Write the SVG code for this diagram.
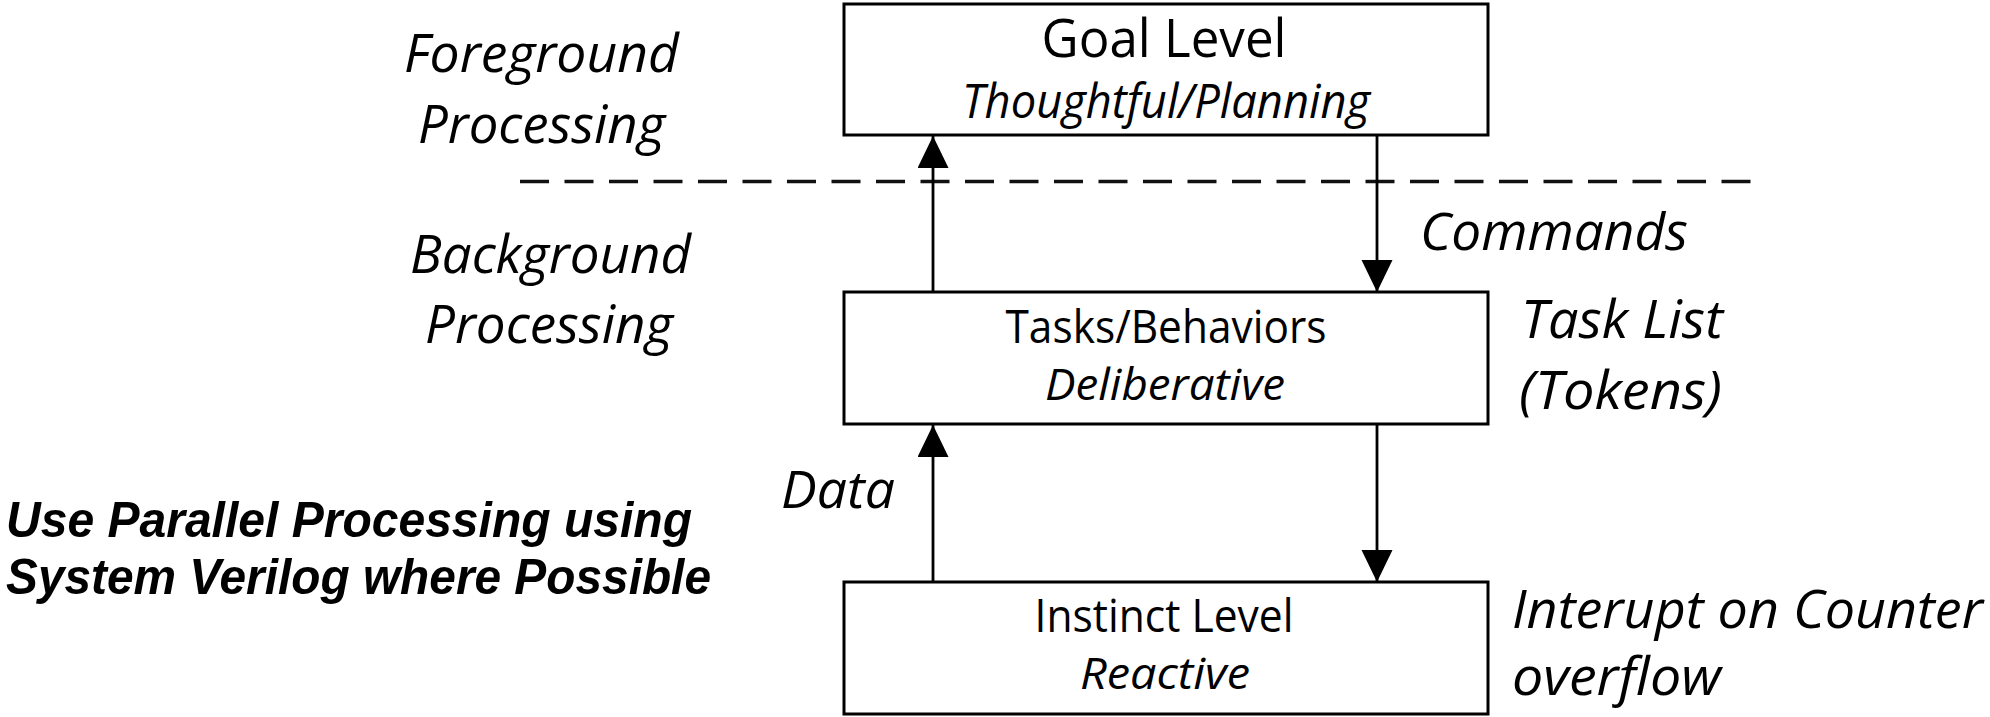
<svg xmlns="http://www.w3.org/2000/svg" width="1990" height="717" viewBox="0 0 1990 717">
  <style>
    .box { fill: #ffffff; stroke: #000000; stroke-width: 3; }
    .wire { stroke: #000000; stroke-width: 2.8; fill: none; }
    .divider { stroke: #111111; stroke-width: 3.4; stroke-dasharray: 29 15.5; fill: none; }
    .t { font-family: "Open Sans", "Noto Sans", "DejaVu Sans", sans-serif; fill: #000000; }
    .it { font-style: italic; }
    .note { font-family: "Liberation Sans", Arial, sans-serif; font-weight: bold; font-style: italic; fill: #000000; }
  </style>
  <defs>
    <marker id="head" markerUnits="userSpaceOnUse" markerWidth="30" markerHeight="32" refX="32" refY="15.5" orient="auto">
      <path d="M0,0 L32,15.5 L0,31 Z" fill="#000000"/>
    </marker>
  </defs>

  <rect width="1990" height="717" fill="#ffffff"/>

  <!-- side labels -->
  <g id="label-foreground">
    <text class="t it" x="404" y="72" font-size="53" textLength="275" lengthAdjust="spacingAndGlyphs">Foreground</text>
    <text class="t it" x="418" y="143" font-size="53" textLength="247" lengthAdjust="spacingAndGlyphs">Processing</text>
  </g>
  <g id="label-background">
    <text class="t it" x="410" y="273" font-size="53" textLength="281" lengthAdjust="spacingAndGlyphs">Background</text>
    <text class="t it" x="425" y="343" font-size="53" textLength="248" lengthAdjust="spacingAndGlyphs">Processing</text>
  </g>

  <!-- foreground / background boundary -->
  <line class="divider" x1="520" y1="181.5" x2="1751" y2="181.5"/>

  <!-- connectors -->
  <g id="connectors">
    <line class="wire" x1="933" y1="292" x2="933" y2="136" marker-end="url(#head)"/>
    <line class="wire" x1="1377" y1="136" x2="1377" y2="292" marker-end="url(#head)"/>
    <line class="wire" x1="933" y1="582" x2="933" y2="425" marker-end="url(#head)"/>
    <line class="wire" x1="1377" y1="425" x2="1377" y2="582" marker-end="url(#head)"/>
    <text class="t it" x="1420" y="250" font-size="51" textLength="268" lengthAdjust="spacingAndGlyphs">Commands</text>
    <text class="t it" x="781" y="508" font-size="51" textLength="114" lengthAdjust="spacingAndGlyphs">Data</text>
  </g>

  <!-- levels -->
  <g id="goal-level">
    <rect class="box" x="844" y="4" width="644" height="131"/>
    <text class="t" x="1164" y="57" font-size="53" text-anchor="middle" textLength="245" lengthAdjust="spacingAndGlyphs">Goal Level</text>
    <text class="t it" x="1166" y="118" font-size="47" text-anchor="middle" textLength="408" lengthAdjust="spacingAndGlyphs">Thoughtful/Planning</text>
  </g>

  <g id="tasks-behaviors">
    <rect class="box" x="844" y="292" width="644" height="132"/>
    <text class="t" x="1166" y="343" font-size="45" text-anchor="middle" textLength="321" lengthAdjust="spacingAndGlyphs">Tasks/Behaviors</text>
    <text class="t it" x="1165" y="400" font-size="44" text-anchor="middle" textLength="240" lengthAdjust="spacingAndGlyphs">Deliberative</text>
  </g>
  <g id="task-list-note">
    <text class="t it" x="1521" y="338" font-size="53" textLength="202" lengthAdjust="spacingAndGlyphs">Task List</text>
    <text class="t it" x="1519" y="409" font-size="53" textLength="203" lengthAdjust="spacingAndGlyphs">(Tokens)</text>
  </g>

  <g id="instinct-level">
    <rect class="box" x="844" y="582" width="644" height="132"/>
    <text class="t" x="1164" y="632" font-size="45" text-anchor="middle" textLength="259" lengthAdjust="spacingAndGlyphs">Instinct Level</text>
    <text class="t it" x="1165" y="689" font-size="44" text-anchor="middle" textLength="170" lengthAdjust="spacingAndGlyphs">Reactive</text>
  </g>
  <g id="interrupt-note">
    <text class="t it" x="1512" y="628" font-size="53" textLength="471" lengthAdjust="spacingAndGlyphs">Interupt on Counter</text>
    <text class="t it" x="1512" y="695" font-size="53" textLength="209" lengthAdjust="spacingAndGlyphs">overflow</text>
  </g>

  <!-- implementation note -->
  <g id="parallel-note">
    <text class="note" x="6" y="537" font-size="50" textLength="686" lengthAdjust="spacingAndGlyphs">Use Parallel Processing using</text>
    <text class="note" x="6" y="594" font-size="50" textLength="705" lengthAdjust="spacingAndGlyphs">System Verilog where Possible</text>
  </g>
</svg>
